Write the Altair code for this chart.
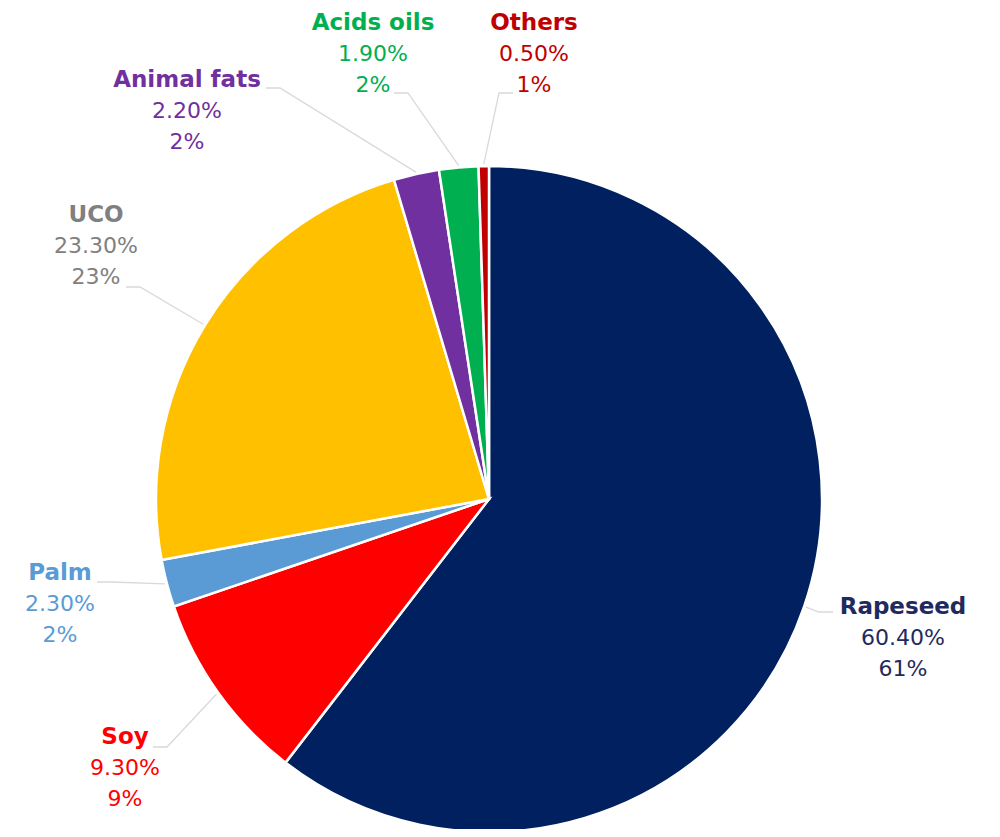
import math
import altair as alt
import pandas as pd

# ---- data ----
categories = ["Rapeseed", "Soy", "Palm", "UCO", "Animal fats", "Acids oils", "Others"]
shares = [60.4, 9.3, 2.3, 23.3, 2.2, 1.9, 0.5]          # percent (2-decimal label)
rounded = [61, 9, 2, 23, 2, 2, 1]                        # rounded percent label

# ---- styling ----
slice_colors = ["#002060", "#FF0000", "#5B9BD5", "#FFC000", "#7030A0", "#00B050", "#C00000"]
text_colors = ["#1F2A5E", "#FF0000", "#5B9BD5", "#808080", "#7030A0", "#00B050", "#C00000"]
FONT = "DejaVu Sans"
FS_BOLD = 23
FS_REG = 22
LINE_GAP = 31

# ---- layout (chart pixel space) ----
CX, CY, R = 481, 491, 333
# label block centre (bold line) relative to pie centre
label_offset = {
    "Rapeseed": (414, 108), "Soy": (-364, 238), "Palm": (-429, 74), "UCO": (-393, -284),
    "Animal fats": (-302, -419), "Acids oils": (-116, -476), "Others": (45, -476),
}
# leader-line attach point relative to label centre
attach_offset = {
    "Rapeseed": (-70, 5), "Soy": (28, 10), "Palm": (37, 9), "UCO": (30, 72),
    "Animal fats": (79, 8), "Acids oils": (21, 70), "Others": (-21, 70),
}

total = sum(shares)
arc_rows, text_rows, line_rows = [], [], []
cum = 0.0
for i, (c, v, rv) in enumerate(zip(categories, shares, rounded)):
    mid = (cum + v / 2) / total * 2 * math.pi
    cum += v
    arc_rows.append({"category": c, "value": v, "order": i, "color": slice_colors[i]})
    lx, ly = CX + label_offset[c][0], CY + label_offset[c][1]
    for k, (txt, w) in enumerate([(c, "bold"), (f"{v:.2f}%", "normal"), (f"{rv}%", "normal")]):
        text_rows.append({"category": c, "text": txt, "weight": w, "x": lx,
                          "y": ly + k * LINE_GAP, "tcolor": text_colors[i]})
    p0 = (CX + (R + 2) * math.sin(mid), CY - (R + 2) * math.cos(mid))
    p2 = (lx + attach_offset[c][0], ly + attach_offset[c][1])
    p1 = (p2[0] + (14 if p2[0] < CX else -14), p2[1])
    for k, p in enumerate([p2, p1, p0]):
        line_rows.append({"category": c, "pt": k, "x": p[0], "y": p[1]})

arc_df = pd.DataFrame(arc_rows)
text_df = pd.DataFrame(text_rows)
line_df = pd.DataFrame(line_rows)

arcs = alt.Chart(arc_df).mark_arc(outerRadius=R, stroke="white", strokeWidth=2.5).encode(
    theta=alt.Theta("value:Q", stack=True),
    order=alt.Order("order:Q"),
    color=alt.Color("color:N", scale=None),
    x=alt.value(CX),
    y=alt.value(CY),
)

leaders = alt.Chart(line_df).mark_line(color="#D9D9D9", strokeWidth=1.3).encode(
    x=alt.X("x:Q", scale=None, axis=None),
    y=alt.Y("y:Q", scale=None, axis=None),
    detail="category:N",
    order="pt:Q",
)

bold_txt = alt.Chart(text_df).transform_filter(alt.datum.weight == "bold").mark_text(
    font=FONT, fontSize=FS_BOLD, fontWeight="bold", align="center", baseline="middle"
).encode(
    x=alt.X("x:Q", scale=None, axis=None),
    y=alt.Y("y:Q", scale=None, axis=None),
    text="text:N",
    color=alt.Color("tcolor:N", scale=None),
)

reg_txt = alt.Chart(text_df).transform_filter(alt.datum.weight == "normal").mark_text(
    font=FONT, fontSize=FS_REG, fontWeight="normal", align="center", baseline="middle"
).encode(
    x=alt.X("x:Q", scale=None, axis=None),
    y=alt.Y("y:Q", scale=None, axis=None),
    text="text:N",
    color=alt.Color("tcolor:N", scale=None),
)

chart = alt.layer(leaders, arcs, bold_txt, reg_txt).properties(
    width=984, height=821, padding=0, autosize="none"
).configure_view(stroke=None)

chart.save("out.html", embed_options={"renderer": "svg", "actions": False})
